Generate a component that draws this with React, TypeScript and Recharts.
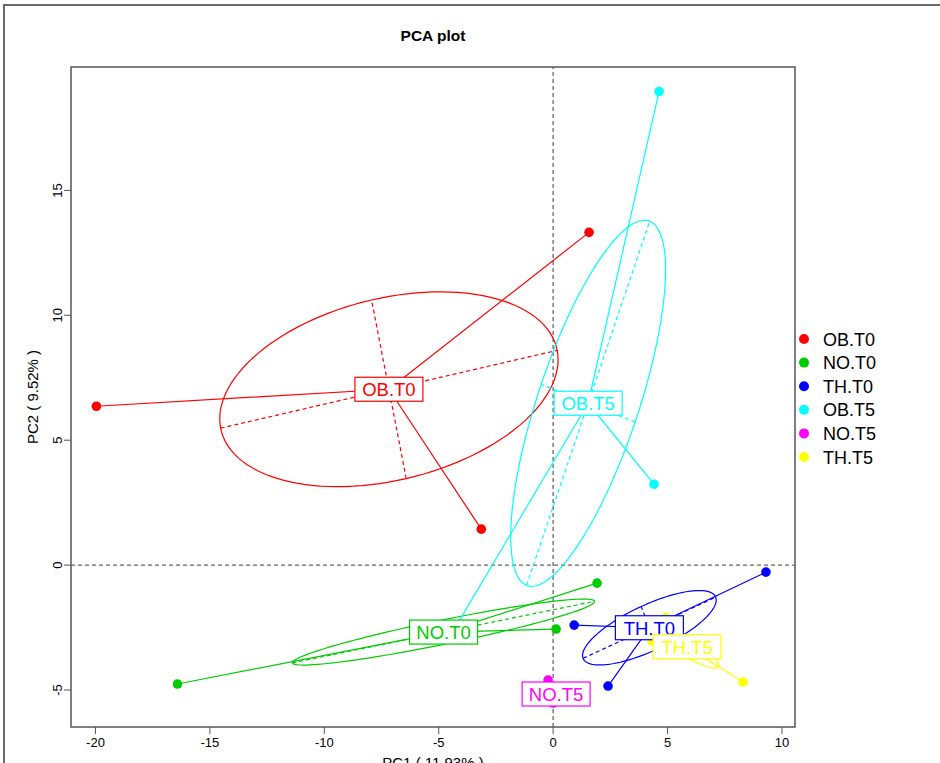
import React from 'react';
import { ComposedChart, Scatter, XAxis, YAxis, ReferenceLine, ReferenceArea } from 'recharts';

// ---- data ----
const groups = ['OB.T0', 'NO.T0', 'TH.T0', 'OB.T5', 'NO.T5', 'TH.T5'];
const colors = ['#FF0000', '#00CD00', '#0000FF', '#00FFFF', '#FF00FF', '#FFFF00'];

const OB_T0_PC1 = [1.57, -19.96, -3.14];
const OB_T0_PC2 = [13.32, 6.36, 1.44];
const NO_T0_PC1 = [1.92, 0.13, -16.42];
const NO_T0_PC2 = [-0.72, -2.56, -4.76];
const TH_T0_PC1 = [9.3, 0.92, 2.4];
const TH_T0_PC2 = [-0.28, -2.4, -4.84];
const OB_T5_PC1 = [4.63, 4.41, -4.45];
const OB_T5_PC2 = [18.96, 3.24, -2.76];
const NO_T5_PC1 = [-0.22, 0.0, 0.61];
const NO_T5_PC2 = [-4.6, -5.52, -5.36];
const TH_T5_PC1 = [8.3, 4.93, 4.32];
const TH_T5_PC2 = [-4.68, -2.08, -3.04];

const groupPC1 = [OB_T0_PC1, NO_T0_PC1, TH_T0_PC1, OB_T5_PC1, NO_T5_PC1, TH_T5_PC1];
const groupPC2 = [OB_T0_PC2, NO_T0_PC2, TH_T0_PC2, OB_T5_PC2, NO_T5_PC2, TH_T5_PC2];

const xTicks = [-20, -15, -10, -5, 0, 5, 10];
const yTicks = [-5, 0, 5, 10, 15];
const xDomain = [-21.07, 10.57];
const yDomain = [-6.48, 19.94];

const ELLIPSE_COEFF = 0.8;
const FONT = '"Liberation Sans", Arial, Helvetica, sans-serif';

// ---- derived geometry (centroid, covariance ellipse) ----
function groupGeometry(xs: number[], ys: number[]) {
  const n = xs.length;
  const mx = xs.reduce((a, b) => a + b, 0) / n;
  const my = ys.reduce((a, b) => a + b, 0) / n;
  let vx = 0, vy = 0, cxy = 0;
  for (let i = 0; i < n; i++) {
    vx += (xs[i] - mx) ** 2 / n;
    vy += (ys[i] - my) ** 2 / n;
    cxy += (xs[i] - mx) * (ys[i] - my) / n;
  }
  const delta = Math.sqrt((vx - vy) ** 2 + 4 * cxy * cxy);
  const l1 = Math.max((vx + vy + delta) / 2, 0);
  const l2 = Math.max(vx + vy - l1, 0);
  let ux = cxy, uy = l1 - vx;
  if (Math.abs(ux) < 1e-9 && Math.abs(uy) < 1e-9) { ux = 1; uy = 0; }
  const norm = Math.hypot(ux, uy);
  ux /= norm; uy /= norm;
  const a = ELLIPSE_COEFF * Math.sqrt(l1);
  const b = ELLIPSE_COEFF * Math.sqrt(l2);
  const ellipse: { x: number; y: number }[] = [];
  for (let k = 0; k <= 120; k++) {
    const t = (2 * Math.PI * k) / 120;
    const ca = a * Math.cos(t), sb = b * Math.sin(t);
    ellipse.push({ x: mx + ca * ux - sb * uy, y: my + ca * uy + sb * ux });
  }
  const major = [
    { x: mx - a * ux, y: my - a * uy },
    { x: mx + a * ux, y: my + a * uy },
  ];
  const minor = [
    { x: mx + b * uy, y: my - b * ux },
    { x: mx - b * uy, y: my + b * ux },
  ];
  const star: { x: number; y: number }[] = [];
  const pts: { x: number; y: number }[] = [];
  for (let i = 0; i < n; i++) {
    star.push({ x: mx, y: my });
    star.push({ x: xs[i], y: ys[i] });
    pts.push({ x: xs[i], y: ys[i] });
  }
  return { center: { x: mx, y: my }, ellipse, major, minor, star, pts };
}

const geoms = groups.map((g, i) => groupGeometry(groupPC1[i], groupPC2[i]));

const NoShape = () => <g />;

const makeDot = (color: string) => (props: any) => (
  <circle cx={props.cx} cy={props.cy} r={4.8} fill={color} stroke="none" />
);

const makeLabel = (color: string, text: string) => (props: any) => {
  const w = 68;
  const h = 24;
  return (
    <g>
      <rect x={props.cx - w / 2} y={props.cy - h / 2} width={w} height={h} fill="#fff" stroke={color} strokeWidth={1.2} />
      <text x={props.cx} y={props.cy + 6.8} textAnchor="middle" fill={color} fontSize={18.5} fontFamily={FONT}>
        {text}
      </text>
    </g>
  );
};

const YTick = (props: any) => {
  const { x, y, payload } = props;
  return (
    <text x={x} y={y} transform={`rotate(-90, ${x}, ${y})`} textAnchor="middle" fontSize={13} fill="#000" fontFamily={FONT}>
      {payload.value}
    </text>
  );
};

export default function App() {
  const series: React.ReactNode[] = [];
  geoms.forEach((g, i) => {
    const c = colors[i];
    series.push(
      <Scatter key={`e${i}`} data={g.ellipse} line={{ stroke: c, strokeWidth: 1.2 }} lineType="joint" shape={NoShape} isAnimationActive={false} legendType="none" />,
      <Scatter key={`ma${i}`} data={g.major} line={{ stroke: c, strokeWidth: 1.2, strokeDasharray: '4 3' }} lineType="joint" shape={NoShape} isAnimationActive={false} legendType="none" />,
      <Scatter key={`mi${i}`} data={g.minor} line={{ stroke: c, strokeWidth: 1.2, strokeDasharray: '4 3' }} lineType="joint" shape={NoShape} isAnimationActive={false} legendType="none" />,
      <Scatter key={`s${i}`} data={g.star} line={{ stroke: c, strokeWidth: 1.2 }} lineType="joint" shape={NoShape} isAnimationActive={false} legendType="none" />,
      <Scatter key={`p${i}`} data={g.pts} shape={makeDot(c)} isAnimationActive={false} legendType="none" />
    );
  });
  geoms.forEach((g, i) => {
    series.push(
      <Scatter key={`l${i}`} data={[g.center]} shape={makeLabel(colors[i], groups[i])} isAnimationActive={false} legendType="none" />
    );
  });

  return (
    <div style={{ position: 'fixed', left: 0, top: 0, width: 940, height: 763, overflow: 'hidden', background: '#fff', fontFamily: FONT }}>
      <div style={{ position: 'absolute', left: 3, top: 4, width: 1000, height: 1000, boxSizing: 'border-box', borderTop: '2px solid #6a6a6a', borderLeft: '2px solid #6a6a6a' }} />
      <div style={{ position: 'absolute', left: 0, top: 0 }}>
        <ComposedChart width={940} height={763} margin={{ top: 67, right: 145, bottom: 6, left: 11 }}>
          <XAxis
            dataKey="x"
            type="number"
            domain={xDomain}
            ticks={xTicks}
            allowDataOverflow
            axisLine={false}
            tickSize={7}
            tickMargin={4}
            height={30}
            tickLine={{ stroke: '#555' }}
            tick={{ fontSize: 13, fill: '#000', fontFamily: FONT }}
          />
          <YAxis
            dataKey="y"
            type="number"
            domain={yDomain}
            ticks={yTicks}
            allowDataOverflow
            axisLine={false}
            tickSize={7}
            tickMargin={2}
            width={60}
            tickLine={{ stroke: '#555' }}
            tick={<YTick />}
          />
          <ReferenceLine x={0} stroke="#666" strokeDasharray="4 3" strokeWidth={1.3} />
          <ReferenceLine y={0} stroke="#666" strokeDasharray="4 3" strokeWidth={1.3} />
          {series}
          <ReferenceArea x1={xDomain[0]} x2={xDomain[1]} y1={yDomain[0]} y2={yDomain[1]} fill="none" stroke="#555" strokeWidth={1.5} ifOverflow="visible" />
        </ComposedChart>
      </div>
      <svg width={940} height={763} style={{ position: 'absolute', left: 0, top: 0, pointerEvents: 'none' }}>
        <text x={433} y={41} textAnchor="middle" fontSize={15.5} fontWeight="bold" fill="#000" fontFamily={FONT}>PCA plot</text>
        <text x={38} y={397} transform="rotate(-90, 38, 397)" textAnchor="middle" fontSize={15} fill="#000" fontFamily={FONT}>PC2 ( 9.52% )</text>
        <text x={433} y={768} textAnchor="middle" fontSize={15} fill="#000" fontFamily={FONT}>PC1 ( 11.93% )</text>
        {groups.map((g, i) => (
          <g key={g}>
            <circle cx={804} cy={339 + i * 23.6} r={5} fill={colors[i]} />
            <text x={823} y={339 + i * 23.6 + 6.5} fontSize={18} fill="#000" fontFamily={FONT}>{g}</text>
          </g>
        ))}
      </svg>
    </div>
  );
}
